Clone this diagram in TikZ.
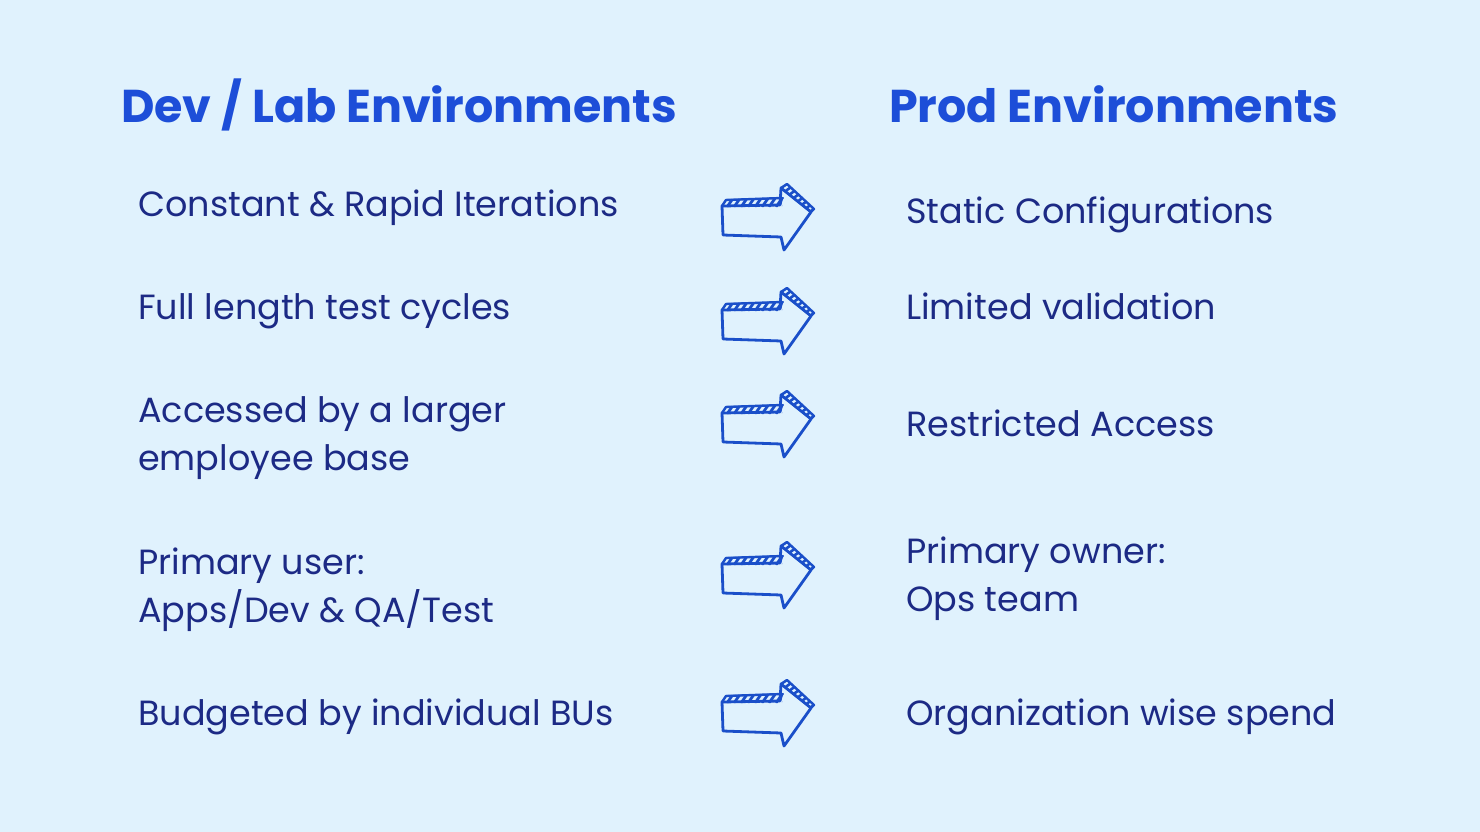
\documentclass[tikz,border=0pt]{standalone}
\usepackage{fontspec}
\setmainfont{Poppins}
\definecolor{bg}{HTML}{E0F2FD}
\definecolor{head}{HTML}{1D4ED8}
\definecolor{body}{HTML}{1C2A85}
\definecolor{arr}{HTML}{1A4FC9}
\tikzset{
  heading/.style={anchor=base west, inner sep=0pt, text=head, font=\fontsize{46}{55}\selectfont\bfseries},
  item/.style={anchor=base west, inner sep=0pt, text=body, align=left, font=\fontsize{35}{48}\selectfont},
  arrowpic/.pic={
    \draw[arr, line width=2.8pt, line join=round, fill=bg]
      (0,0) -- (58,-1) -- (59,-18) -- (89,6) -- (62,44) -- (59,31) -- (1,29) -- cycle;
    \begin{scope}
      \clip (0,1) -- (4,-7) -- (62,-9) -- (60,1) -- cycle;
      \foreach \x in {-2,5,...,63} \draw[arr, line width=2.8pt] (\x,1) -- (\x+7,-9);
    \end{scope}
    \draw[arr, line width=2.4pt, line join=round]
      (0,0) -- (4,-6) -- (60,-8) -- (58,-1);
    \begin{scope}
      \clip (59,-18) -- (65,-22) -- (92,3) -- (89,6) -- cycle;
      \foreach \t in {0,0.14,...,1} \draw[arr, line width=2.6pt] ($(59,-18)!\t!(89,6)$) -- ++(8,-6);
    \end{scope}
    \draw[arr, line width=2.4pt, line join=round]
      (59,-18) -- (65,-22) -- (92,3) -- (89,6);
  }
}
\usetikzlibrary{calc}
\begin{document}
\begin{tikzpicture}[x=1pt, y=-1pt]
\fill[bg] (0,0) rectangle (1480,832);
\useasboundingbox (0,0) rectangle (1480,832);
\node[heading] (hL) at (121,123) {Dev / Lab Environments};
\node[heading] (hR) at (889,123) {Prod Environments};

\node[item] (l1) at (138,216) {Constant \& Rapid Iterations};
\node[item] (l2) at (138,319) {Full length test cycles};
\node[item] (l3) at (138,470) {Accessed by a larger\\employee base};
\node[item] (l4) at (138,622) {Primary user:\\Apps/Dev \& QA/Test};
\node[item] (l5) at (138,725) {Budgeted by individual BUs};

\node[item] (r1) at (906,223) {Static Configurations};
\node[item] (r2) at (906,319) {Limited validation};
\node[item] (r3) at (906,436) {Restricted Access};
\node[item] (r4) at (906,611) {Primary owner:\\Ops team};
\node[item] (r5) at (906,725) {Organization wise spend};

\pic at (722,206) {arrowpic};
\pic at (722,310) {arrowpic};
\pic at (722,413) {arrowpic};
\pic at (722,564) {arrowpic};
\pic at (722,702) {arrowpic};
\end{tikzpicture}
\end{document}
